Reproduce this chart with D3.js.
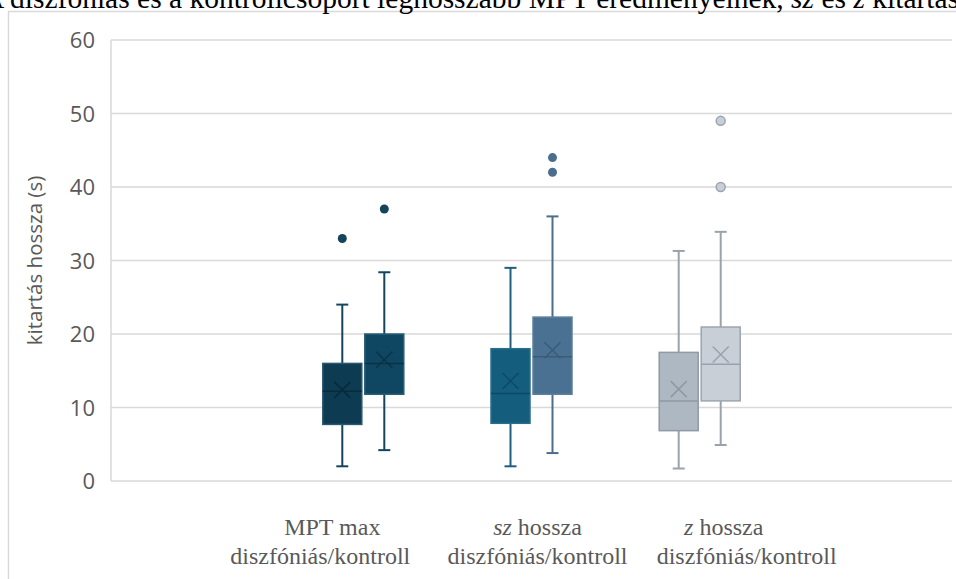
<!DOCTYPE html>
<html>
<head>
<meta charset="utf-8">
<script src="https://cdn.jsdelivr.net/npm/d3@7"></script>
<style>
  html, body { margin: 0; padding: 0; background: #fff; overflow: hidden; }
  svg { display: block; }
</style>
</head>
<body>
<svg id="chart"></svg>
<script>
// categories (first and last slot are empty, as in the original chart)
const slots = ["_left", "MPT max", "sz hossza", "z hossza", "_right"];
const groups = ["MPT max", "sz hossza", "z hossza"];
const series = ["diszfóniás", "kontroll"];

// box statistics per group, [diszfóniás, kontroll]
const whiskerLow  = [[2.0, 4.2], [2.0, 3.8], [1.7, 4.9]];
const q1          = [[7.7, 11.8], [7.85, 11.8], [6.85, 10.9]];
const median      = [[12.2, 16.0], [11.9, 16.9], [10.9, 15.9]];
const q3          = [[16.0, 20.0], [18.0, 22.3], [17.5, 20.95]];
const whiskerHigh = [[24.0, 28.4], [29.0, 36.0], [31.3, 33.9]];
const means       = [[12.4, 16.5], [13.6, 17.8], [12.5, 17.2]];
const outliers    = [[[33], [37]], [[], [44, 42]], [[], [49, 40]]];

const yTicks = [0, 10, 20, 30, 40, 50, 60];

// category label lines (line 1 may have an italic part)
const labelLine1 = [
  [{ t: "MPT max", i: false }],
  [{ t: "sz", i: true }, { t: " hossza", i: false }],
  [{ t: "z", i: true }, { t: " hossza", i: false }]
];
const labelLine2 = ["diszfóniás/kontroll", "diszfóniás/kontroll", "diszfóniás/kontroll"];
const labelShift = [[-31, -43], [6, 6], [24, 47]];

// colours
const fills   = [["#0d3b52", "#0f4661"], ["#145d7d", "#4a7191"], ["#aeb8c2", "#c9cfd7"]];
const edges   = [["#2a5870", "#2a5f78"], ["#2b6d8a", "#5d7f9b"], ["#8f9aa5", "#9ca5af"]];
const lines   = [["#14455c", "#14455c"], ["#1f5f7e", "#4b6e8c"], ["#9aa3ac", "#9aa3ac"]];
const marks   = [["#082a3b", "#0a3348"], ["#0e4a64", "#3a5c77"], ["#8e99a4", "#98a2ac"]];

const W = 956, H = 579;
const svg = d3.select("#chart").attr("width", W).attr("height", H);

const plot = { left: 111, right: 952, top: 40, bottom: 481 };

const x0 = d3.scaleBand().domain(slots).range([plot.left, plot.right]);
const x1 = d3.scaleBand().domain(series).range([-40.5, 40.5]).paddingInner(0.0714);
const y = d3.scaleLinear().domain([0, 60]).range([plot.bottom, plot.top]);

// outer frame of the embedded chart
svg.append("line").attr("x1", 8.5).attr("x2", 8.5).attr("y1", 11).attr("y2", H)
  .attr("stroke", "#d9d9d9").attr("stroke-width", 1.5);
svg.append("line").attr("x1", 8).attr("x2", W).attr("y1", 11.5).attr("y2", 11.5)
  .attr("stroke", "#d9d9d9").attr("stroke-width", 1.5);

// caption (cut off at the top of the picture)
const cap = svg.append("text")
  .attr("x", -17).attr("y", 8)
  .attr("font-family", "'Liberation Serif', 'Times New Roman', serif")
  .attr("font-size", 29.5).attr("fill", "#000");
[["A diszfóniás és a kontrollcsoport leghosszabb MPT eredményeinek, ", false],
 ["sz", true], [" és ", false], ["z", true], [" kitartásának összehasonlítása", false]]
  .forEach(p => cap.append("tspan").attr("font-style", p[1] ? "italic" : "normal").text(p[0]));

// gridlines
svg.append("g").selectAll("line").data(yTicks).enter().append("line")
  .attr("x1", plot.left).attr("x2", plot.right)
  .attr("y1", d => y(d)).attr("y2", d => y(d))
  .attr("stroke", "#d9d9d9").attr("stroke-width", 1.5);

svg.append("line").attr("x1", plot.left).attr("x2", plot.left)
  .attr("y1", plot.top).attr("y2", plot.bottom)
  .attr("stroke", "#d9d9d9").attr("stroke-width", 1.5);

// y axis labels
const yAxis = svg.append("g")
  .attr("transform", "translate(" + (plot.left - 16) + ",0)")
  .call(d3.axisLeft(y).tickValues(yTicks).tickSize(0).tickPadding(0));
yAxis.select(".domain").remove();
yAxis.selectAll("text")
  .attr("font-family", "'Open Sans', 'Noto Sans', sans-serif")
  .attr("font-size", 22).attr("fill", "#595959").attr("dy", "0.35em");

svg.append("text")
  .attr("transform", "translate(42," + ((plot.top + plot.bottom) / 2) + ") rotate(-90)")
  .attr("text-anchor", "middle")
  .attr("font-family", "'Open Sans', 'Noto Sans', sans-serif")
  .attr("font-size", 20.5).attr("fill", "#595959")
  .text("kitartás hossza (s)");

// box plots
const boxes = [];
groups.forEach((g, gi) => series.forEach((s, si) => boxes.push({ g, s, gi, si })));

const bw = x1.bandwidth();
const cx = d => x0(d.g) + x0.bandwidth() / 2 + x1(d.s) + bw / 2;

const box = svg.append("g").selectAll("g").data(boxes).enter().append("g");

// whiskers
box.append("line")
  .attr("x1", cx).attr("x2", cx)
  .attr("y1", d => y(whiskerHigh[d.gi][d.si])).attr("y2", d => y(q3[d.gi][d.si]))
  .attr("stroke", d => lines[d.gi][d.si]).attr("stroke-width", 2);
box.append("line")
  .attr("x1", cx).attr("x2", cx)
  .attr("y1", d => y(q1[d.gi][d.si])).attr("y2", d => y(whiskerLow[d.gi][d.si]))
  .attr("stroke", d => lines[d.gi][d.si]).attr("stroke-width", 2);
[whiskerHigh, whiskerLow].forEach(arr => {
  box.append("line")
    .attr("x1", d => cx(d) - 6).attr("x2", d => cx(d) + 6)
    .attr("y1", d => y(arr[d.gi][d.si])).attr("y2", d => y(arr[d.gi][d.si]))
    .attr("stroke", d => lines[d.gi][d.si]).attr("stroke-width", 2);
});

// box
box.append("rect")
  .attr("x", d => cx(d) - bw / 2)
  .attr("width", bw)
  .attr("y", d => y(q3[d.gi][d.si]))
  .attr("height", d => y(q1[d.gi][d.si]) - y(q3[d.gi][d.si]))
  .attr("fill", d => fills[d.gi][d.si])
  .attr("stroke", d => edges[d.gi][d.si]).attr("stroke-width", 1.5);

// median
box.append("line")
  .attr("x1", d => cx(d) - bw / 2).attr("x2", d => cx(d) + bw / 2)
  .attr("y1", d => y(median[d.gi][d.si])).attr("y2", d => y(median[d.gi][d.si]))
  .attr("stroke", d => marks[d.gi][d.si]).attr("stroke-width", 1.5);

// mean marker (x)
box.append("path")
  .attr("d", d => {
    const mx = cx(d), my = y(means[d.gi][d.si]), r = 8;
    return "M" + (mx - r) + "," + (my - r) + "L" + (mx + r) + "," + (my + r) +
           "M" + (mx - r) + "," + (my + r) + "L" + (mx + r) + "," + (my - r);
  })
  .attr("stroke", d => marks[d.gi][d.si]).attr("stroke-width", 1.5).attr("fill", "none");

// outliers
box.selectAll("circle")
  .data(d => outliers[d.gi][d.si].map(v => ({ v, d })))
  .enter().append("circle")
  .attr("cx", o => cx(o.d)).attr("cy", o => y(o.v)).attr("r", 4.5)
  .attr("fill", o => o.d.gi === 2 ? fills[2][o.d.si] : lines[o.d.gi][o.d.si])
  .attr("stroke", o => o.d.gi === 2 ? edges[2][o.d.si] : "none")
  .attr("stroke-width", 1.5);

// category labels
const lab = svg.append("g").selectAll("g").data(groups).enter().append("g")
  .attr("font-family", "'Liberation Serif', 'Times New Roman', serif")
  .attr("font-size", 24).attr("fill", "#595959").attr("text-anchor", "middle");

lab.append("text")
  .attr("x", (d, i) => x0(d) + x0.bandwidth() / 2 + labelShift[i][0])
  .attr("y", 535)
  .each(function (d, i) {
    labelLine1[i].forEach(p => d3.select(this).append("tspan")
      .attr("font-style", p.i ? "italic" : "normal").text(p.t));
  });
lab.append("text")
  .attr("x", (d, i) => x0(d) + x0.bandwidth() / 2 + labelShift[i][1])
  .attr("y", 564)
  .text((d, i) => labelLine2[i]);
</script>
</body>
</html>
